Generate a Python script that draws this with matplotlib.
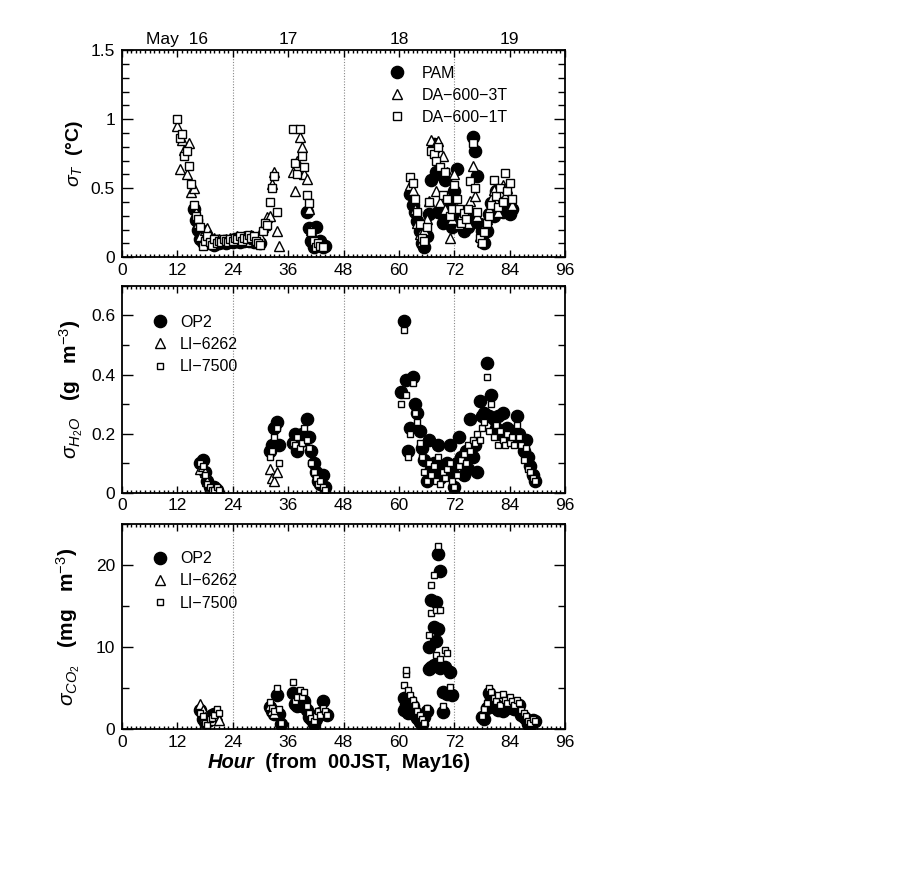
import numpy as np
import matplotlib
matplotlib.use("Agg")
from matplotlib import pyplot as plt
from matplotlib.ticker import MultipleLocator, FormatStrFormatter
from matplotlib.transforms import blended_transform_factory

plt.rcParams["font.family"] = ["Liberation Sans", "DejaVu Sans"]
plt.rcParams["mathtext.fontset"] = "custom"
plt.rcParams["mathtext.rm"] = "Liberation Sans"
plt.rcParams["mathtext.it"] = "Liberation Sans:italic"
plt.rcParams["mathtext.bf"] = "Liberation Sans:bold"

nan = np.nan

# ---- sigma T (top panel) ----
t_hours_a = [12.0, 12.5, 13.0, 13.5, 14.0, 14.5, 15.0, 15.5, 16.0, 16.5,
             17.0, 17.5, 18.0, 18.5, 19.0, 19.5, 20.0, 20.5, 21.0, 21.5,
             22.0, 22.5, 23.0, 23.5, 24.0, 24.5, 25.0, 25.5, 26.0, 26.5,
             27.0, 27.5, 28.0, 28.5, 29.0, 29.5, 30.0, 30.5, 31.0, 31.5,
             32.0, 32.5, 33.0, 33.5, 34.0, 34.5, 35.0, 35.5, 36.0, 36.5,
             37.0, 37.5, 38.0, 38.5, 39.0, 39.5, 40.0, 40.5, 41.0, 41.5,
             42.0, 42.5, 43.0, 43.5, 44.0]
t_hours_b = [62.5, 63.0, 63.5, 64.0, 64.5, 65.0, 65.5, 66.0, 66.5, 67.0,
             67.5, 68.0, 68.5, 69.0, 69.5, 70.0, 70.5, 71.0, 71.5, 72.0,
             72.5, 73.0, 73.5, 74.0, 74.5, 75.0, 75.5, 76.0, 76.5, 77.0,
             77.5, 78.0, 78.5, 79.0, 79.5, 80.0, 80.5, 81.0, 81.5, 82.0,
             82.5, 83.0, 83.5, 84.0, 84.5]

pam_a = [nan, nan, nan, nan, nan, nan, nan, 0.35, 0.27, 0.20,
         0.13, 0.11, 0.14, 0.12, 0.10, 0.11, 0.09, 0.12, 0.10, 0.11,
         0.12, 0.10, 0.11, 0.12, 0.11, 0.13, 0.12, 0.11, 0.13, 0.12,
         0.14, 0.12, 0.13, 0.11, 0.12, 0.11, 0.10, nan, nan, nan,
         nan, nan, nan, nan, nan, nan, nan, nan, nan, nan,
         nan, nan, nan, nan, nan, nan, 0.33, 0.21, 0.12, 0.07,
         0.22, 0.10, 0.12, 0.07, 0.08]
pam_b = [0.46, 0.38, 0.33, 0.26, 0.19, 0.10, 0.07, 0.15, 0.31, 0.56,
         0.82, 0.62, 0.33, 0.60, 0.25, 0.56, 0.30, 0.41, 0.22, 0.48,
         0.64, 0.26, 0.29, 0.19, 0.25, 0.22, 0.27, 0.87, 0.77, 0.59,
         0.24, 0.19, 0.10, 0.19, 0.31, 0.39, 0.30, 0.48, 0.36, 0.41,
         0.33, 0.46, 0.39, 0.31, 0.35]

da3t_a = [0.95, 0.64, 0.85, 0.78, 0.60, 0.83, 0.47, 0.50, 0.33, 0.25,
          0.15, 0.12, 0.20, 0.21, 0.16, 0.13, 0.14, 0.12, 0.13, 0.12,
          0.11, 0.13, 0.12, 0.14, 0.13, 0.12, 0.15, 0.13, 0.14, 0.15,
          0.12, 0.14, 0.16, 0.13, 0.14, 0.12, 0.15, 0.22, 0.23, 0.29,
          0.30, 0.53, 0.62, 0.19, 0.08, nan, nan, nan, nan, nan,
          0.62, 0.48, 0.70, 0.87, 0.80, 0.60, 0.57, 0.35, 0.20, 0.14,
          0.10, 0.09, 0.08, nan, nan]
da3t_b = [0.52, 0.49, 0.35, 0.25, 0.17, 0.12, 0.20, 0.28, 0.41, 0.85,
          0.80, 0.48, 0.84, 0.40, 0.73, 0.35, 0.62, 0.14, 0.28, 0.60,
          0.35, 0.24, 0.30, 0.27, 0.33, 0.25, 0.41, 0.66, 0.44, 0.30,
          0.15, 0.12, 0.22, 0.28, 0.35, 0.42, 0.49, 0.40, 0.33, 0.47,
          0.52, 0.44, 0.50, 0.42, 0.38]

da1t_a = [1.00, 0.86, 0.89, 0.73, 0.77, 0.66, 0.53, 0.38, 0.30, 0.28,
          0.22, 0.08, 0.12, 0.15, 0.11, 0.09, 0.13, 0.10, 0.12, 0.11,
          0.13, 0.12, 0.11, 0.13, 0.12, 0.14, 0.13, 0.15, 0.12, 0.14,
          0.13, 0.16, 0.14, 0.15, 0.12, 0.10, 0.09, 0.19, 0.25, 0.23,
          0.40, 0.50, 0.59, 0.33, nan, nan, nan, nan, nan, nan,
          0.93, 0.68, 0.60, 0.93, 0.73, 0.65, 0.45, 0.39, 0.18, 0.12,
          0.07, 0.10, 0.08, 0.07, nan]
da1t_b = [0.58, 0.54, 0.42, 0.33, 0.24, 0.14, 0.12, 0.22, 0.40, 0.77,
          0.75, 0.70, 0.80, 0.65, 0.45, 0.62, 0.42, 0.30, 0.35, 0.52,
          0.42, 0.35, 0.25, 0.32, 0.28, 0.35, 0.55, 0.83, 0.50, 0.33,
          0.14, 0.10, 0.18, 0.25, 0.30, 0.38, 0.56, 0.44, 0.36, 0.50,
          0.40, 0.61, 0.48, 0.54, 0.42]

# ---- sigma H2O (middle panel) ----
q_hours = [17.0, 17.5, 18.0, 18.5, 19.0, 19.5, 20.0, 20.5, 21.0,
           32.0, 32.5, 33.0, 33.5, 34.0,
           37.0, 37.5, 38.0, 38.5, 39.0, 39.5, 40.0, 40.5, 41.0, 41.5,
           42.0, 42.5, 43.0, 43.5, 44.0,
           60.5, 61.0, 61.5, 62.0, 62.5, 63.0, 63.5, 64.0, 64.5, 65.0,
           65.5, 66.0, 66.5, 67.0, 67.5, 68.0, 68.5, 69.0, 69.5, 70.0,
           70.5, 71.0, 71.5, 72.0, 72.5, 73.0, 73.5, 74.0, 74.5, 75.0,
           75.5, 76.0, 76.5, 77.0, 77.5, 78.0, 78.5, 79.0, 79.5, 80.0,
           80.5, 81.0, 81.5, 82.0, 82.5, 83.0, 83.5, 84.0, 84.5, 85.0,
           85.5, 86.0, 86.5, 87.0, 87.5, 88.0, 88.5, 89.0, 89.5]
q_op2 = [0.10, 0.11, 0.07, 0.04, 0.02, 0.01, 0.02, 0.01, nan,
         0.14, 0.16, 0.22, 0.24, 0.16,
         0.17, 0.20, 0.14, 0.19, 0.20, 0.18, 0.25, 0.19, 0.14, 0.10,
         0.07, 0.04, 0.03, 0.06, 0.02,
         0.34, 0.58, 0.38, 0.14, 0.22, 0.39, 0.30, 0.27, 0.21, 0.15,
         0.11, 0.04, 0.18, 0.08, 0.10, 0.06, 0.16, 0.05, 0.09, 0.08,
         0.10, 0.16, 0.07, 0.02, 0.10, 0.19, 0.12, 0.06, 0.14, 0.08,
         0.25, 0.12, 0.16, 0.07, 0.31, 0.26, 0.27, 0.44, 0.26, 0.33,
         0.25, 0.22, 0.26, 0.20, 0.27, 0.21, 0.22, 0.20, 0.21, 0.18,
         0.26, 0.20, 0.18, 0.14, 0.18, 0.12, 0.09, 0.06, 0.04]
q_li6262 = [0.08, 0.09, 0.07, 0.04, 0.02, 0.02, 0.01, 0.01, 0.01,
            0.08, 0.05, 0.04, 0.07, nan,
            nan, nan, nan, nan, nan, nan, nan, nan, nan, nan,
            nan, nan, nan, nan, nan,
            nan, nan, nan, nan, nan, nan, nan, nan, nan, nan,
            nan, nan, nan, nan, nan, nan, nan, nan, nan, nan,
            nan, nan, nan, nan, nan, nan, nan, nan, nan, nan,
            nan, nan, nan, nan, nan, nan, nan, nan, nan, nan,
            nan, nan, nan, nan, nan, nan, nan, nan, nan, nan,
            nan, nan, nan, nan, nan, nan, nan, nan, nan]
q_li7500 = [0.10, 0.09, 0.06, 0.03, 0.02, 0.01, 0.01, 0.02, 0.01,
            0.12, 0.14, 0.19, 0.22, 0.10,
            0.17, 0.16, 0.19, 0.15, 0.17, 0.22, 0.18, 0.15, 0.10, 0.07,
            0.05, 0.03, 0.04, 0.02, 0.01,
            0.30, 0.55, 0.33, 0.12, 0.20, 0.37, 0.27, 0.24, 0.17, 0.12,
            0.07, 0.04, 0.10, 0.06, 0.09, 0.04, 0.12, 0.03, 0.07, 0.05,
            0.08, 0.10, 0.04, 0.02, 0.06, 0.09, 0.11, 0.13, 0.10, 0.16,
            0.14, 0.18, 0.17, 0.20, 0.18, 0.22, 0.24, 0.39, 0.21, 0.30,
            0.19, 0.23, 0.16, 0.21, 0.18, 0.16, 0.20, 0.17, 0.19, 0.16,
            0.23, 0.19, 0.16, 0.11, 0.15, 0.08, 0.07, 0.05, 0.04]

# ---- sigma CO2 (bottom panel) ----
c_op2_hours = [17.0, 17.5, 18.0, 18.5, 19.0, 19.5, 20.0,
               32.0, 32.5, 33.0, 33.5, 34.0, 34.5,
               37.0, 37.5, 38.0, 38.5, 39.0, 39.5, 40.0, 40.5, 41.0, 41.5,
               42.0, 42.5, 43.0, 43.5, 44.0, 44.5,
               61.0, 61.0, 61.5, 62.0, 62.5, 63.0, 63.5, 64.0, 64.5, 65.0,
               65.5, 66.0, 66.5, 66.5, 67.0, 67.0, 67.5, 67.5, 68.0, 68.0,
               68.5, 68.5, 69.0, 69.0, 69.5, 69.5, 70.0, 70.5, 71.0, 71.5,
               78.0, 78.5, 79.0, 79.5, 80.0, 80.5, 81.0, 81.5, 82.0, 82.5,
               83.0, 83.5, 84.0, 84.5, 85.0, 85.5, 86.0, 86.5, 87.0, 87.5,
               88.0, 88.5, 89.0, 89.5]
c_op2 = [2.3, 1.3, 0.9, 1.1, 1.5, 1.7, 1.9,
         2.7, 2.2, 1.9, 4.2, 1.9, 0.6,
         4.4, 3.1, 2.8, 3.3, 2.9, 3.5, 2.3, 1.5, 1.2, 0.7,
         1.3, 1.8, 2.0, 3.5, 1.9, 1.8,
         3.8, 2.3, 3.0, 2.0, 3.4, 2.8, 1.8, 1.4, 0.9, 0.6,
         1.5, 2.2, 7.4, 10.0, 15.7, 7.6, 12.5, 7.8, 15.5, 10.8,
         21.4, 12.2, 19.3, 7.5, 4.6, 2.1, 7.6, 4.3, 7.0, 4.2,
         1.5, 1.3, 2.6, 4.4, 3.8, 2.7, 3.0, 2.4, 2.6, 2.2,
         2.5, 2.7, 3.1, 2.6, 2.5, 2.9, 3.0, 1.8, 1.5, 1.2,
         0.7, 0.5, 1.1, 1.0]
c_li6262_hours = [17.0, 17.5, 18.0, 18.5, 19.0, 19.5, 20.0, 20.5, 21.0,
                  32.0, 32.5, 33.0]
c_li6262 = [3.1, 2.4, 1.5, 1.0, 1.3, 1.1, 1.6, 1.8, 1.1,
            3.0, 2.4, 2.0]
c_li7500_hours = [17.0, 17.5, 18.0, 18.5, 19.0, 19.5, 20.0, 20.5, 21.0,
                  32.0, 32.5, 33.0, 33.5, 34.0, 34.5,
                  37.0, 37.5, 38.0, 38.5, 39.0, 39.5, 40.0, 40.5, 41.0, 41.5,
                  42.0, 42.5, 43.0, 43.5, 44.0, 44.5,
                  61.0, 61.5, 61.5, 62.0, 62.5, 63.0, 63.5, 64.0, 64.5, 65.0,
                  65.5, 66.0, 66.5, 67.0, 67.0, 67.5, 68.0, 68.0, 68.5, 69.0,
                  69.0, 69.5, 70.0, 70.5, 71.0,
                  78.0, 78.5, 79.0, 79.5, 80.0, 80.5, 81.0, 81.5, 82.0, 82.5,
                  83.0, 83.5, 84.0, 84.5, 85.0, 85.5, 86.0, 86.5, 87.0, 87.5,
                  88.0, 88.5, 89.0, 89.5]
c_li7500 = [2.0, 1.6, 0.8, 0.5, 1.2, 1.4, 1.7, 2.5, 2.0,
            3.3, 2.6, 2.2, 5.0, 2.5, 0.8,
            5.8, 3.5, 3.9, 4.8, 4.0, 4.6, 2.8, 2.0, 1.4, 1.0,
            1.6, 2.2, 1.8, 2.6, 2.2, 1.7,
            5.4, 6.7, 7.2, 4.8, 4.2, 3.6, 3.0, 2.2, 1.8, 1.2,
            0.8, 2.6, 11.5, 14.2, 17.6, 18.8, 14.5, 9.1, 22.3, 8.6,
            14.5, 2.8, 9.7, 9.3, 5.2,
            1.6, 2.5, 3.2, 5.0, 4.5, 3.8, 3.4, 4.2, 3.0, 4.3,
            3.6, 3.2, 3.9, 3.4, 3.0, 3.6, 3.2, 2.4, 2.0, 1.6,
            1.0, 0.8, 1.2, 1.0]

day_hours = [12, 36, 60, 84]
day_labels = ["May  16", "17", "18", "19"]


def style_axis(ax, ymax, ymajor, yminor, yfmt):
    ax.set_xlim(0, 96)
    ax.set_ylim(0, ymax)
    ax.xaxis.set_major_locator(MultipleLocator(12))
    ax.xaxis.set_minor_locator(MultipleLocator(1))
    ax.yaxis.set_major_locator(MultipleLocator(ymajor))
    ax.yaxis.set_minor_locator(MultipleLocator(yminor))
    ax.yaxis.set_major_formatter(FormatStrFormatter(yfmt))
    ax.tick_params(axis="both", which="both", direction="in",
                   top=True, right=True, labelsize=12.5, width=1.0)
    ax.tick_params(axis="y", which="major", length=8, pad=5)
    ax.tick_params(axis="y", which="minor", length=5)
    ax.tick_params(axis="x", which="major", length=5, pad=4)
    ax.tick_params(axis="x", which="minor", length=2.5)
    for s in ax.spines.values():
        s.set_linewidth(1.3)
    for h in (24, 48, 72):
        ax.axvline(h, color="#888888", lw=0.8, ls=(0, (1, 1.5)), zorder=0)


circ = dict(marker="o", ls="none", ms=8.8, mfc="black", mec="black", mew=1.0)
tri = dict(marker="^", ls="none", ms=6.5, mfc="white", mec="black", mew=1.0)
sq_big = dict(marker="s", ls="none", ms=6.0, mfc="white", mec="black", mew=1.0)
sq_small = dict(marker="s", ls="none", ms=4.3, mfc="white", mec="black", mew=1.0)
leg_kw = dict(frameon=False, fontsize=11.5, handlelength=1.6, labelspacing=0.45,
              borderaxespad=0.0, borderpad=0.0)

fig = plt.figure(figsize=(8.97, 8.96), dpi=100)
ax1 = fig.add_axes([0.136, 0.713, 0.494, 0.231])
ax2 = fig.add_axes([0.136, 0.450, 0.494, 0.231])
ax3 = fig.add_axes([0.136, 0.186, 0.494, 0.229])

# top panel
ax1.plot(t_hours_a + t_hours_b, pam_a + pam_b, label="PAM", **circ)
ax1.plot(t_hours_a + t_hours_b, da3t_a + da3t_b, label="DA\u2212600\u22123T", **tri)
ax1.plot(t_hours_a + t_hours_b, da1t_a + da1t_b, label="DA\u2212600\u22121T", **sq_big)
style_axis(ax1, 1.5, 0.5, 0.1, "%g")
ax1.set_ylabel(r"$\sigma_T$  (°C)", fontsize=14, fontweight="bold", labelpad=4)
ax1.legend(loc="upper right", bbox_to_anchor=(0.87, 0.925), handletextpad=0.7, **leg_kw)
trans = blended_transform_factory(ax1.transData, ax1.transAxes)
for h, lab in zip(day_hours, day_labels):
    ax1.text(h, 1.015, lab, transform=trans, ha="center", va="bottom", fontsize=12.5)

# middle panel
ax2.plot(q_hours, q_op2, label="OP2", **circ)
ax2.plot(q_hours, q_li6262, label="LI\u22126262", **tri)
ax2.plot(q_hours, q_li7500, label="LI\u22127500", **sq_small)
style_axis(ax2, 0.7, 0.2, 0.1, "%g")
ax2.set_ylabel(r"$\sigma_{H_2O}$   (g   m$^{-3}$)", fontsize=15, fontweight="bold", labelpad=4)
ax2.legend(loc="upper left", bbox_to_anchor=(0.057, 0.86), handletextpad=0.45, **leg_kw)

# bottom panel
ax3.plot(c_op2_hours, c_op2, label="OP2", **circ)
ax3.plot(c_li6262_hours, c_li6262, label="LI\u22126262", **tri)
ax3.plot(c_li7500_hours, c_li7500, label="LI\u22127500", **sq_small)
style_axis(ax3, 25, 10, 5, "%g")
ax3.set_ylabel(r"$\sigma_{CO_2}$   (mg   m$^{-3}$)", fontsize=15, fontweight="bold", labelpad=10)
ax3.legend(loc="upper left", bbox_to_anchor=(0.057, 0.868), handletextpad=0.45, **leg_kw)

# x label: italic "Hour" followed by the rest
t1 = fig.text(0.231, 0.143, "Hour", fontsize=14.5, fontweight="bold", style="italic",
              ha="left", va="baseline")
ax3.annotate("  (from  00JST,  May16)", xy=(1, 0), xycoords=t1,
             fontsize=14.5, fontweight="bold", ha="left", va="bottom")

fig.savefig("out.png", dpi=100)
